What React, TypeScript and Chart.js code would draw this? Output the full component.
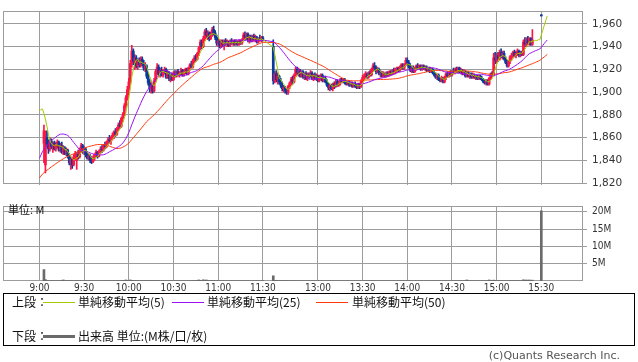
import React, { useEffect, useRef } from "react";
import { Chart, registerables } from "chart.js";
Chart.register(...registerables);

// ---- time axis labels ----
const timeLabels = ["9:00", "9:30", "10:00", "10:30", "11:00", "11:30", "13:00", "13:30", "14:00", "14:30", "15:00", "15:30"];
const priceTicks = [1820, 1840, 1860, 1880, 1900, 1920, 1940, 1960];
const volumeTicks = [5, 10, 15, 20];

// previous session closes (seed for the moving averages)
const prevCloses = [
  1799, 1801, 1800, 1802, 1803, 1802, 1804, 1805, 1804, 1806, 1807, 1806, 1808, 1807, 1809, 1808, 1810, 1809, 1811, 1810,
  1812, 1811, 1810, 1812, 1813, 1809, 1812, 1811, 1814, 1816, 1815, 1818, 1821, 1820, 1823, 1826, 1825, 1829, 1832, 1835,
  1846, 1850, 1853, 1857, 1860, 1866, 1878, 1883, 1886, 1885,
];

// ---- morning session 9:00 - 11:30 (one entry per minute) ----
const amOpen = [
  null, null, null, 1855, 1836, 1860, 1854, 1850, 1857, 1852,
  1855, 1850, 1854, 1856, 1849, 1853, 1848, 1851, 1846, 1849,
  1844, 1838, 1841, 1836, 1843, 1840, 1845, 1843, 1849, 1853,
  1848, 1850, 1845, 1842, 1844, 1840, 1839, 1842, 1845, 1847,
  1844, 1848, 1850, 1849, 1853, 1852, 1856, 1858, 1857, 1860,
  1862, 1865, 1863, 1868, 1871, 1870, 1877, 1880, 1888, 1895,
  1902, 1909, 1925, 1936, 1927, 1930, 1923, 1927, 1924, 1929,
  1925, 1921, 1923, 1914, 1908, 1903, 1906, 1901, 1910, 1918,
  1922, 1916, 1919, 1915, 1918, 1920, 1913, 1917, 1912, 1915,
  1911, 1916, 1914, 1918, 1915, 1917, 1919, 1915, 1918, 1920,
  1916, 1921, 1924, 1922, 1928, 1930, 1929, 1934, 1939, 1944,
  1940, 1947, 1953, 1950, 1952, 1947, 1951, 1955, 1952, 1948,
  1943, 1945, 1941, 1944, 1942, 1945, 1943, 1944, 1941, 1945,
  1943, 1945, 1942, 1944, 1942, 1945, 1943, 1946, 1950, 1948,
  1951, 1946, 1948, 1945, 1949, 1946, 1948, 1944, 1947, 1946,
  1948,
];
const amHigh = [
  null, null, null, 1871, 1866, 1866, 1858, 1860, 1859, 1856,
  1857, 1856, 1858, 1857, 1855, 1856, 1853, 1852, 1851, 1850,
  1846, 1843, 1842, 1845, 1848, 1847, 1849, 1851, 1855, 1854,
  1852, 1851, 1848, 1846, 1845, 1843, 1844, 1846, 1849, 1848,
  1849, 1852, 1853, 1854, 1856, 1857, 1860, 1862, 1861, 1864,
  1866, 1868, 1869, 1873, 1875, 1878, 1882, 1890, 1897, 1905,
  1912, 1928, 1941, 1938, 1933, 1932, 1929, 1930, 1931, 1931,
  1928, 1926, 1924, 1917, 1911, 1909, 1908, 1912, 1920, 1925,
  1924, 1921, 1922, 1920, 1922, 1921, 1919, 1918, 1916, 1917,
  1918, 1919, 1919, 1920, 1918, 1921, 1920, 1920, 1921, 1921,
  1922, 1925, 1927, 1929, 1932, 1933, 1935, 1940, 1946, 1946,
  1949, 1955, 1956, 1954, 1953, 1953, 1957, 1958, 1954, 1950,
  1947, 1946, 1946, 1946, 1946, 1947, 1946, 1945, 1946, 1947,
  1946, 1946, 1946, 1945, 1946, 1946, 1947, 1952, 1953, 1952,
  1952, 1950, 1950, 1950, 1951, 1950, 1949, 1948, 1950, 1949,
  1949,
];
const amLow = [
  null, null, null, 1838, 1829, 1852, 1846, 1848, 1850, 1847,
  1849, 1848, 1851, 1848, 1847, 1846, 1845, 1845, 1844, 1842,
  1836, 1832, 1833, 1835, 1840, 1832, 1841, 1842, 1847, 1846,
  1845, 1843, 1841, 1840, 1838, 1837, 1838, 1840, 1843, 1842,
  1843, 1846, 1847, 1848, 1850, 1851, 1854, 1855, 1854, 1858,
  1859, 1861, 1862, 1866, 1868, 1869, 1874, 1879, 1886, 1893,
  1898, 1907, 1922, 1924, 1920, 1921, 1920, 1922, 1922, 1923,
  1919, 1918, 1912, 1906, 1900, 1899, 1899, 1900, 1909, 1915,
  1914, 1913, 1914, 1913, 1916, 1912, 1912, 1910, 1909, 1910,
  1910, 1913, 1913, 1914, 1913, 1915, 1914, 1914, 1916, 1915,
  1915, 1919, 1921, 1921, 1926, 1927, 1928, 1932, 1937, 1938,
  1939, 1945, 1948, 1946, 1945, 1946, 1949, 1950, 1946, 1941,
  1940, 1939, 1939, 1940, 1937, 1941, 1940, 1940, 1940, 1942,
  1941, 1941, 1941, 1941, 1941, 1942, 1942, 1945, 1946, 1946,
  1944, 1943, 1944, 1944, 1945, 1944, 1943, 1943, 1945, 1944,
  1945,
];
const amClose = [
  null, null, null, 1866, 1860, 1854, 1850, 1857, 1852, 1855,
  1850, 1854, 1856, 1849, 1853, 1848, 1851, 1846, 1849, 1844,
  1838, 1841, 1836, 1843, 1846, 1845, 1843, 1849, 1853, 1848,
  1850, 1845, 1842, 1844, 1840, 1839, 1842, 1845, 1847, 1844,
  1848, 1850, 1849, 1853, 1852, 1856, 1858, 1857, 1860, 1862,
  1865, 1863, 1868, 1871, 1870, 1877, 1880, 1888, 1895, 1902,
  1909, 1925, 1936, 1927, 1930, 1923, 1927, 1924, 1929, 1925,
  1921, 1923, 1914, 1908, 1903, 1906, 1901, 1910, 1918, 1922,
  1916, 1919, 1915, 1918, 1920, 1913, 1917, 1912, 1915, 1911,
  1916, 1914, 1918, 1915, 1917, 1919, 1915, 1918, 1920, 1916,
  1921, 1924, 1922, 1928, 1930, 1929, 1934, 1939, 1944, 1940,
  1947, 1953, 1950, 1952, 1947, 1951, 1955, 1952, 1948, 1943,
  1945, 1941, 1944, 1942, 1945, 1943, 1944, 1941, 1945, 1943,
  1945, 1942, 1944, 1942, 1945, 1943, 1946, 1950, 1948, 1951,
  1946, 1948, 1945, 1949, 1946, 1948, 1944, 1947, 1946, 1948,
  1946,
];
const amVolume = [
  null, null, null, 3.3, 0.4, 0.12, 0.08, 0.06, 0.07, 0.05,
  0.05, 0.06, 0.04, 0.05, 0.06, 0.08, 0.3, 0.07, 0.05, 0.06,
  0.09, 0.07, 0.05, 0.06, 0.05, 0.08, 0.04, 0.06, 0.05, 0.04,
  0.05, 0.04, 0.06, 0.05, 0.04, 0.05, 0.03, 0.04, 0.05, 0.04,
  0.05, 0.04, 0.05, 0.06, 0.04, 0.05, 0.06, 0.05, 0.04, 0.06,
  0.07, 0.05, 0.08, 0.09, 0.06, 0.1, 0.12, 0.14, 0.3, 0.16,
  0.18, 0.3, 0.2, 0.12, 0.1, 0.09, 0.08, 0.07, 0.06, 0.07,
  0.06, 0.07, 0.09, 0.1, 0.11, 0.08, 0.07, 0.09, 0.1, 0.08,
  0.06, 0.05, 0.05, 0.06, 0.04, 0.05, 0.04, 0.05, 0.04, 0.05,
  0.04, 0.05, 0.04, 0.03, 0.04, 0.05, 0.03, 0.04, 0.04, 0.05,
  0.06, 0.07, 0.06, 0.08, 0.09, 0.08, 0.1, 0.3, 0.15, 0.12,
  0.35, 0.14, 0.3, 0.1, 0.09, 0.08, 0.11, 0.1, 0.08, 0.07,
  0.06, 0.05, 0.05, 0.04, 0.05, 0.04, 0.04, 0.05, 0.03, 0.04,
  0.03, 0.04, 0.03, 0.04, 0.03, 0.03, 0.04, 0.06, 0.05, 0.04,
  0.04, 0.03, 0.03, 0.04, 0.03, 0.04, 0.03, 0.03, 0.04, 0.03,
  0.12,
];

// ---- afternoon session 12:30 - 15:34 (one entry per minute; 15:25-15:29 closing auction, 15:30 close) ----
const pmOpen = [
  1940, 1910, 1916, 1911, 1914, 1909, 1906, 1903, 1904, 1901,
  1900, 1905, 1908, 1911, 1909, 1915, 1920, 1917, 1919, 1914,
  1918, 1913, 1916, 1912, 1915, 1914, 1917, 1912, 1915, 1912,
  1914, 1910, 1913, 1915, 1910, 1912, 1909, 1906, 1904, 1906,
  1903, 1907, 1905, 1909, 1906, 1908, 1911, 1909, 1911, 1908,
  1907, 1909, 1906, 1908, 1905, 1907, 1905, 1904, 1907, 1905,
  1910, 1913, 1914, 1916, 1913, 1917, 1915, 1920, 1923, 1921,
  1918, 1920, 1916, 1917, 1914, 1916, 1915, 1917, 1915, 1918,
  1916, 1919, 1917, 1920, 1921, 1919, 1922, 1924, 1921, 1924,
  1928, 1926, 1922, 1919, 1921, 1918, 1920, 1923, 1921, 1923,
  1920, 1923, 1921, 1922, 1919, 1921, 1918, 1920, 1917, 1915,
  1913, 1915, 1911, 1910, 1912, 1909, 1913, 1916, 1914, 1917,
  1915, 1918, 1917, 1920, 1918, 1921, 1918, 1919, 1916, 1918,
  1914, 1917, 1914, 1916, 1913, 1915, 1913, 1914, 1912, 1914,
  1912, 1911, 1909, 1908, 1910, 1907, 1912, 1916, 1915, 1930,
  1928, 1932, 1929, 1935, 1931, 1934, 1929, 1926, 1923, 1927,
  1931, 1932, 1935, 1932, 1934, 1936, 1933, 1935, 1933, 1944,
  1942, 1946, 1943, 1947, 1942, null, null, null, null, null,
  1967, null, null, null, null,
];
const pmHigh = [
  1946, 1918, 1919, 1917, 1915, 1912, 1909, 1906, 1905, 1903,
  1906, 1909, 1913, 1914, 1916, 1922, 1922, 1921, 1920, 1919,
  1919, 1917, 1918, 1917, 1917, 1919, 1918, 1916, 1917, 1916,
  1915, 1915, 1916, 1916, 1914, 1914, 1911, 1908, 1907, 1907,
  1908, 1909, 1911, 1911, 1910, 1912, 1912, 1912, 1912, 1910,
  1910, 1910, 1909, 1909, 1908, 1909, 1907, 1908, 1908, 1911,
  1915, 1916, 1918, 1917, 1918, 1919, 1921, 1925, 1926, 1923,
  1922, 1921, 1919, 1918, 1918, 1917, 1918, 1918, 1919, 1919,
  1920, 1921, 1921, 1922, 1922, 1923, 1925, 1925, 1925, 1930,
  1930, 1928, 1925, 1923, 1923, 1922, 1924, 1925, 1924, 1924,
  1924, 1924, 1923, 1923, 1922, 1922, 1921, 1921, 1919, 1917,
  1916, 1916, 1913, 1914, 1913, 1914, 1917, 1918, 1918, 1919,
  1919, 1921, 1921, 1922, 1922, 1922, 1921, 1920, 1920, 1919,
  1918, 1918, 1917, 1917, 1917, 1916, 1915, 1915, 1915, 1915,
  1914, 1912, 1911, 1911, 1911, 1913, 1917, 1918, 1934, 1935,
  1934, 1935, 1937, 1938, 1936, 1936, 1931, 1928, 1928, 1932,
  1934, 1936, 1937, 1936, 1938, 1937, 1936, 1936, 1946, 1948,
  1948, 1949, 1948, 1948, 1955, null, null, null, null, null,
  1967, null, null, null, null,
];
const pmLow = [
  1907, 1908, 1909, 1907, 1907, 1904, 1901, 1900, 1899, 1898,
  1898, 1903, 1906, 1907, 1908, 1914, 1915, 1914, 1913, 1913,
  1912, 1911, 1911, 1910, 1912, 1913, 1911, 1910, 1911, 1910,
  1909, 1909, 1911, 1909, 1909, 1908, 1905, 1902, 1901, 1902,
  1901, 1903, 1904, 1905, 1905, 1906, 1908, 1908, 1907, 1906,
  1906, 1905, 1905, 1904, 1904, 1904, 1903, 1903, 1903, 1904,
  1908, 1910, 1912, 1912, 1912, 1914, 1914, 1918, 1919, 1916,
  1917, 1915, 1913, 1913, 1913, 1913, 1913, 1914, 1914, 1915,
  1915, 1916, 1916, 1917, 1918, 1918, 1920, 1920, 1920, 1923,
  1924, 1921, 1918, 1917, 1917, 1917, 1919, 1920, 1920, 1919,
  1919, 1920, 1919, 1918, 1918, 1917, 1917, 1916, 1914, 1912,
  1911, 1910, 1909, 1909, 1908, 1908, 1911, 1913, 1913, 1914,
  1914, 1916, 1916, 1917, 1917, 1917, 1916, 1915, 1915, 1913,
  1913, 1913, 1912, 1912, 1912, 1912, 1911, 1911, 1911, 1911,
  1910, 1908, 1907, 1906, 1906, 1906, 1911, 1913, 1914, 1925,
  1926, 1927, 1928, 1930, 1929, 1928, 1925, 1922, 1922, 1925,
  1928, 1930, 1931, 1930, 1932, 1931, 1931, 1932, 1932, 1940,
  1940, 1942, 1941, 1941, 1941, null, null, null, null, null,
  1967, null, null, null, null,
];
const pmClose = [
  1910, 1916, 1911, 1914, 1909, 1906, 1903, 1904, 1901, 1900,
  1905, 1908, 1911, 1909, 1915, 1920, 1917, 1919, 1914, 1918,
  1913, 1916, 1912, 1915, 1914, 1917, 1912, 1915, 1912, 1914,
  1910, 1913, 1915, 1910, 1912, 1909, 1906, 1904, 1906, 1903,
  1907, 1905, 1909, 1906, 1908, 1911, 1909, 1911, 1908, 1907,
  1909, 1906, 1908, 1905, 1907, 1905, 1904, 1907, 1905, 1910,
  1913, 1914, 1916, 1913, 1917, 1915, 1920, 1923, 1921, 1918,
  1920, 1916, 1917, 1914, 1916, 1915, 1917, 1915, 1918, 1916,
  1919, 1917, 1920, 1921, 1919, 1922, 1924, 1921, 1924, 1928,
  1926, 1922, 1919, 1921, 1918, 1920, 1923, 1921, 1923, 1920,
  1923, 1921, 1922, 1919, 1921, 1918, 1920, 1917, 1915, 1913,
  1915, 1911, 1910, 1912, 1909, 1913, 1916, 1914, 1917, 1915,
  1918, 1917, 1920, 1918, 1921, 1918, 1919, 1916, 1918, 1914,
  1917, 1914, 1916, 1913, 1915, 1913, 1914, 1912, 1914, 1912,
  1911, 1909, 1908, 1910, 1907, 1912, 1916, 1915, 1930, 1928,
  1932, 1929, 1935, 1931, 1934, 1929, 1926, 1923, 1927, 1931,
  1932, 1935, 1932, 1934, 1936, 1933, 1935, 1933, 1944, 1942,
  1946, 1943, 1947, 1942, 1946, null, null, null, null, null,
  1967, null, null, null, null,
];
const pmVolume = [
  1.5, 0.2, 0.12, 0.1, 0.09, 0.08, 0.09, 0.07, 0.08, 0.06,
  0.07, 0.06, 0.05, 0.05, 0.06, 0.07, 0.05, 0.04, 0.05, 0.04,
  0.04, 0.03, 0.04, 0.03, 0.04, 0.03, 0.03, 0.04, 0.03, 0.03,
  0.03, 0.04, 0.03, 0.03, 0.03, 0.04, 0.04, 0.05, 0.04, 0.03,
  0.04, 0.03, 0.04, 0.03, 0.03, 0.04, 0.03, 0.03, 0.02, 0.03,
  0.03, 0.02, 0.03, 0.03, 0.02, 0.03, 0.03, 0.02, 0.03, 0.04,
  0.05, 0.04, 0.04, 0.03, 0.04, 0.04, 0.05, 0.06, 0.05, 0.04,
  0.03, 0.03, 0.04, 0.03, 0.03, 0.03, 0.03, 0.04, 0.03, 0.03,
  0.03, 0.04, 0.03, 0.04, 0.03, 0.04, 0.05, 0.04, 0.04, 0.06,
  0.05, 0.04, 0.04, 0.03, 0.03, 0.03, 0.04, 0.03, 0.03, 0.03,
  0.03, 0.02, 0.03, 0.03, 0.03, 0.02, 0.03, 0.03, 0.04, 0.04,
  0.03, 0.04, 0.04, 0.03, 0.04, 0.04, 0.05, 0.04, 0.03, 0.04,
  0.04, 0.03, 0.04, 0.03, 0.04, 0.03, 0.03, 0.03, 0.04, 0.04,
  0.3, 0.05, 0.04, 0.04, 0.03, 0.03, 0.04, 0.03, 0.03, 0.03,
  0.04, 0.05, 0.04, 0.05, 0.06, 0.3, 0.08, 0.06, 0.25, 0.12,
  0.1, 0.08, 0.09, 0.07, 0.07, 0.06, 0.06, 0.07, 0.06, 0.08,
  0.07, 0.08, 0.06, 0.07, 0.08, 0.07, 0.06, 0.07, 0.35, 0.2,
  0.3, 0.15, 0.3, 0.14, 0.25, null, null, null, null, null,
  20.3, null, null, null, null,
];

// ---- layout constants ----
const SESSION_AM = 9 * 60;
const SESSION_PM = 12 * 60 + 30;
const PM_FIRST_SLOT = 157; // the lunch break is compressed to a few empty slots
const X_MIN = -24.5;
const X_MAX = 365;
const GRID = "#9c9c9c";
const UP = "#ff1446";
const DOWN = "#0a3a9e";

function slotOfLabel(t: string): number {
  const [h, m] = t.split(":").map(Number);
  const mins = h * 60 + m;
  return mins >= SESSION_PM ? PM_FIRST_SLOT + (mins - SESSION_PM) : mins - SESSION_AM;
}
const labelSlots = timeLabels.map(slotOfLabel);

type Bar = { slot: number; o: number | null; h: number | null; l: number | null; c: number | null; v: number | null };
function buildBars(): Bar[] {
  const out: Bar[] = [];
  amClose.forEach((c, i) => out.push({ slot: i, o: amOpen[i], h: amHigh[i], l: amLow[i], c, v: amVolume[i] }));
  pmClose.forEach((c, i) => out.push({ slot: PM_FIRST_SLOT + i, o: pmOpen[i], h: pmHigh[i], l: pmLow[i], c, v: pmVolume[i] }));
  return out;
}

function movingAverage(bars: Bar[], n: number) {
  const seq: number[] = [...prevCloses];
  let last = prevCloses[prevCloses.length - 1];
  bars.forEach((b) => {
    if (b.c != null) last = b.c;
    seq.push(last);
  });
  const base = prevCloses.length;
  return bars.map((b, j) => {
    let s = 0;
    for (let k = base + j - n + 1; k <= base + j; k++) s += seq[k];
    return { x: b.slot, y: s / n };
  });
}

const framePlugin = {
  id: "frame",
  beforeDatasetsDraw(chart: any) {
    const { ctx, chartArea: a } = chart;
    ctx.save();
    ctx.strokeStyle = GRID;
    ctx.lineWidth = 1;
    ctx.strokeRect(Math.round(a.left) + 0.5, Math.round(a.top) + 0.5, Math.round(a.right - a.left) - 1, Math.round(a.bottom - a.top) - 1);
    ctx.restore();
  },
};

export default function App() {
  const priceRef = useRef<HTMLCanvasElement>(null);
  const volRef = useRef<HTMLCanvasElement>(null);

  useEffect(() => {
    const bars = buildBars();
    const traded = bars.filter((b) => b.c != null);
    const colorOf = (b: Bar) => ((b.c as number) > (b.o as number) ? UP : DOWN);

    const xScaleBase = {
      type: "linear" as const,
      min: X_MIN,
      max: X_MAX,
      offset: false,
      border: { display: false },
      grid: { offset: false, color: GRID, drawTicks: false, lineWidth: 1 },
      afterBuildTicks: (s: any) => {
        s.ticks = labelSlots.map((v) => ({ value: v }));
      },
    };

    const price = new Chart(priceRef.current as HTMLCanvasElement, {
      type: "bar",
      data: {
        datasets: [
          { type: "line", label: "MA5", data: movingAverage(bars, 5), borderColor: "#9fcc00", borderWidth: 1, pointRadius: 0, order: 0 } as any,
          { type: "line", label: "MA25", data: movingAverage(bars, 25), borderColor: "#9b10f5", borderWidth: 1, pointRadius: 0, order: 0 } as any,
          { type: "line", label: "MA50", data: movingAverage(bars, 50), borderColor: "#ff3a0a", borderWidth: 1, pointRadius: 0, order: 0 } as any,
          {
            type: "bar",
            label: "wick",
            data: traded.map((b) => ({ x: b.slot, y: [b.l, b.h] })),
            backgroundColor: traded.map(colorOf),
            barThickness: 1,
            minBarLength: 1,
            grouped: false,
            order: 2,
          } as any,
          {
            type: "bar",
            label: "body",
            data: traded.map((b) => ({ x: b.slot, y: [b.o, b.c] })),
            backgroundColor: traded.map(colorOf),
            barThickness: 2,
            minBarLength: 1,
            grouped: false,
            order: 1,
          } as any,
        ],
      },
      options: {
        responsive: false,
        animation: false,
        events: [],
        layout: { padding: { left: 3, top: 1, right: 0, bottom: 6 } },
        plugins: { legend: { display: false }, tooltip: { enabled: false } },
        scales: {
          x: { ...xScaleBase, ticks: { display: false }, afterFit: (s: any) => { s.height = 0; } } as any,
          y: {
            position: "right",
            min: 1818.6,
            max: 1971,
            border: { display: false },
            grid: { color: GRID, tickLength: 4, drawTicks: true },
            ticks: {
              padding: 5,
              color: "#333",
              font: { family: "DejaVu Sans", size: 10.5 },
              callback: (v: any) => Number(v).toLocaleString("en-US"),
            },
            afterBuildTicks: (s: any) => {
              s.ticks = priceTicks.map((v) => ({ value: v }));
            },
            afterFit: (s: any) => { s.width = 55; },
          } as any,
        },
      },
      plugins: [framePlugin],
    });

    const vol = new Chart(volRef.current as HTMLCanvasElement, {
      type: "bar",
      data: {
        datasets: [
          {
            label: "出来高",
            data: bars.filter((b) => b.v != null).map((b) => ({ x: b.slot, y: b.v })),
            backgroundColor: "#6a6a6a",
            barThickness: 2,
            grouped: false,
          } as any,
        ],
      },
      options: {
        responsive: false,
        animation: false,
        events: [],
        layout: { padding: { left: 3, top: 5, right: 0, bottom: 0 } },
        plugins: { legend: { display: false }, tooltip: { enabled: false } },
        scales: {
          x: {
            ...xScaleBase,
            ticks: {
              autoSkip: false,
              maxRotation: 0,
              padding: 1,
              color: "#333",
              font: { family: "DejaVu Sans Condensed, DejaVu Sans", size: 10 },
              callback: (_v: any, i: number) => timeLabels[i],
            },
            afterFit: (s: any) => { s.height = 14; },
          } as any,
          y: {
            position: "right",
            min: 0,
            max: 21.7,
            border: { display: false },
            grid: { color: GRID, tickLength: 4, drawTicks: true },
            ticks: {
              padding: 5,
              color: "#333",
              font: { family: "DejaVu Sans Condensed, DejaVu Sans", size: 10 },
              callback: (v: any) => `${v}M`,
            },
            afterBuildTicks: (s: any) => {
              s.ticks = volumeTicks.map((v) => ({ value: v }));
            },
            afterFit: (s: any) => { s.width = 55; },
          } as any,
        },
      },
      plugins: [framePlugin],
    });

    return () => {
      price.destroy();
      vol.destroy();
    };
  }, []);

  const jp = "'Noto Sans CJK JP', sans-serif";
  const txt: React.CSSProperties = { position: "absolute", fontFamily: jp, fontSize: 12, lineHeight: "16px", color: "#111", whiteSpace: "nowrap" };
  const line = (left: number, top: number, color: string, h = 1): React.CSSProperties => ({ position: "absolute", left, top, width: 32, height: h, background: color });

  return (
    <div style={{ position: "fixed", left: 0, top: 0, width: 638, height: 362, background: "#fff", overflow: "hidden" }}>
      <canvas ref={priceRef} width={638} height={196} style={{ position: "absolute", left: 0, top: 0, display: "block" }} />
      <canvas ref={volRef} width={638} height={100} style={{ position: "absolute", left: 0, top: 195, display: "block" }} />
      <div style={{ ...txt, left: 8, top: 201, fontSize: 11 }}>単位: M</div>
      <div style={{ position: "absolute", left: 3, top: 293, width: 632, height: 53, border: "1px solid #000", boxSizing: "border-box" }} />
      <div style={{ ...txt, left: 12, top: 294 }}>上段：</div>
      <div style={line(43, 302, "#9fcc00")} />
      <div style={{ ...txt, left: 78, top: 294 }}>単純移動平均(5)</div>
      <div style={line(172, 302, "#9b10f5")} />
      <div style={{ ...txt, left: 207, top: 294 }}>単純移動平均(25)</div>
      <div style={line(316, 302, "#ff3a0a")} />
      <div style={{ ...txt, left: 352, top: 294 }}>単純移動平均(50)</div>
      <div style={{ ...txt, left: 12, top: 328 }}>下段：</div>
      <div style={line(43, 335, "#6a6a6a", 3)} />
      <div style={{ ...txt, left: 78, top: 328 }}>出来高 単位:(M株/口/枚)</div>
      <div style={{ ...txt, right: 18, top: 348, fontFamily: "'DejaVu Sans', sans-serif", fontSize: 11, color: "#555" }}>(c)Quants Research Inc.</div>
    </div>
  );
}
